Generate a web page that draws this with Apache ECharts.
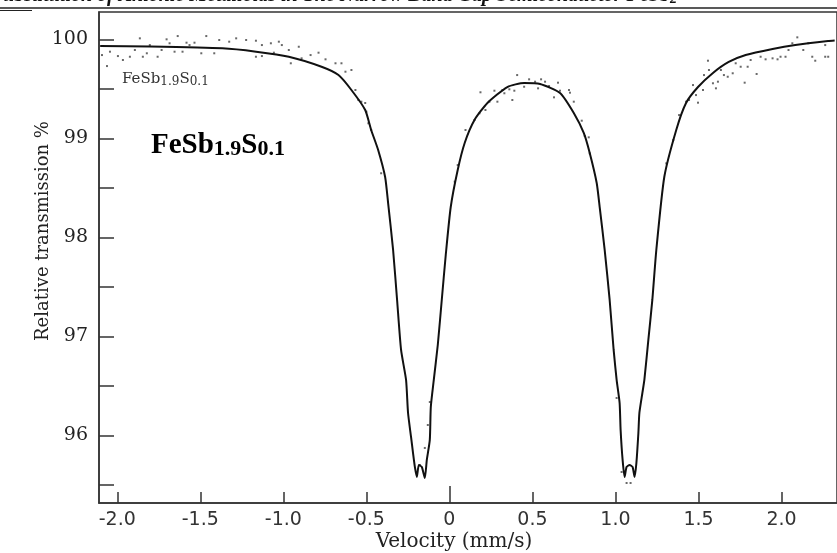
<!DOCTYPE html>
<html>
<head>
<meta charset="utf-8">
<script src="https://cdn.jsdelivr.net/npm/echarts@6/dist/echarts.min.js"></script>
<style>
  html, body { margin: 0; padding: 0; background: #fff; }
  #chart { width: 837px; height: 553px; }
</style>
</head>
<body>
<div id="chart"></div>
<script>
// fitted curve (velocity mm/s, relative transmission %)
var fitVel = [-2.103,-1.804,-1.367,-1.164,-0.967,-0.770,-0.668,-0.590,-0.507,-0.471,-0.429,-0.387,-0.369,-0.339,-0.315,-0.291,-0.261,-0.249,-0.231,-0.219,-0.207,-0.196,-0.184,-0.166,-0.148,-0.136,-0.118,-0.112,-0.094,-0.070,-0.046,-0.022,0.008,0.050,0.092,0.151,0.229,0.349,0.450,0.546,0.666,0.749,0.809,0.845,0.887,0.905,0.935,0.965,0.989,1.007,1.025,1.031,1.043,1.055,1.067,1.085,1.103,1.115,1.126,1.138,1.144,1.162,1.174,1.198,1.222,1.246,1.294,1.366,1.425,1.497,1.587,1.682,1.784,1.946,2.083,2.280,2.320];
var fitTrans = [99.934,99.929,99.911,99.877,99.826,99.725,99.641,99.490,99.288,99.086,98.884,98.611,98.348,97.874,97.369,96.864,96.561,96.227,95.985,95.823,95.672,95.581,95.702,95.682,95.571,95.753,95.955,96.288,96.561,96.914,97.369,97.823,98.308,98.682,98.955,99.187,99.359,99.520,99.561,99.551,99.460,99.258,99.056,98.854,98.551,98.308,97.874,97.369,96.864,96.561,96.328,96.056,95.753,95.581,95.682,95.702,95.682,95.581,95.722,96.025,96.227,96.429,96.561,96.965,97.369,97.874,98.611,99.086,99.359,99.520,99.662,99.773,99.843,99.904,99.944,99.985,99.990];

// measured points
var dataVel = [-2.092,-2.062,-2.044,-1.996,-1.966,-1.924,-1.894,-1.864,-1.846,-1.822,-1.804,-1.757,-1.733,-1.703,-1.685,-1.655,-1.636,-1.607,-1.583,-1.565,-1.535,-1.494,-1.464,-1.416,-1.386,-1.326,-1.284,-1.224,-1.165,-1.165,-1.129,-1.129,-1.075,-1.057,-1.027,-1.009,-0.967,-0.955,-0.907,-0.890,-0.836,-0.788,-0.746,-0.686,-0.650,-0.626,-0.590,-0.566,-0.548,-0.530,-0.507,-0.500,-0.488,-0.471,-0.411,
  -0.178,-0.148,-0.130,-0.118,
  0.032,0.050,0.097,0.151,0.181,0.217,0.187,0.241,0.271,0.289,0.319,0.331,0.361,0.391,0.379,0.408,0.450,0.480,0.516,0.534,0.552,0.576,0.600,0.630,0.654,0.666,0.720,0.726,0.749,0.797,0.815,0.839,0.845,
  1.007,1.037,1.067,1.091,
  1.306,1.348,1.383,1.425,1.443,1.467,1.485,1.497,1.527,1.533,1.557,1.563,1.587,1.605,1.617,1.635,1.653,1.676,1.706,1.724,1.754,1.778,1.796,1.814,1.850,1.874,1.904,1.946,1.976,1.994,2.024,2.042,2.065,2.095,2.131,2.161,2.185,2.203,2.263,2.263,2.281];
var dataTrans = [99.843,99.732,99.877,99.833,99.793,99.826,99.894,100.012,99.826,99.861,99.944,99.826,99.894,100.002,99.962,99.877,100.035,99.877,99.968,99.944,99.968,99.861,100.035,99.861,99.995,99.978,100.012,99.995,99.988,99.826,99.944,99.833,99.962,99.867,99.978,99.944,99.894,99.760,99.927,99.810,99.843,99.867,99.800,99.760,99.760,99.675,99.692,99.490,99.389,99.372,99.359,99.271,99.154,99.086,98.649,
  95.702,95.874,96.106,96.338,
  98.564,98.732,99.086,99.187,99.255,99.288,99.467,99.372,99.483,99.372,99.490,99.457,99.497,99.483,99.389,99.641,99.523,99.598,99.574,99.507,99.598,99.574,99.530,99.416,99.564,99.483,99.490,99.463,99.372,99.180,99.025,99.012,98.850,
  96.379,95.631,95.520,95.520,
  98.749,98.985,99.237,99.372,99.389,99.540,99.439,99.362,99.490,99.641,99.786,99.692,99.558,99.507,99.574,99.692,99.641,99.624,99.659,99.760,99.725,99.564,99.725,99.793,99.652,99.826,99.800,99.810,99.800,99.826,99.826,99.894,99.962,100.022,99.894,99.962,99.826,99.786,99.944,99.826,99.826];

var velTicks = [-2.0, -1.5, -1.0, -0.5, 0, 0.5, 1.0, 1.5, 2.0];
var transTicks = [95.5, 96, 96.5, 97, 97.5, 98, 98.5, 99, 99.5, 100];
var transLabels = [96, 97, 98, 99, 100];

var fitData = fitVel.map(function (v, i) { return [v, fitTrans[i]]; });
var pointData = dataVel.map(function (v, i) { return [v, dataTrans[i]]; });

var chart = echarts.init(document.getElementById('chart'), null, { renderer: 'canvas' });

var axisCol = '#333';

chart.setOption({
    animation: false,
    backgroundColor: '#fff',
    grid: {
        left: 99, right: -5, top: 12, bottom: 50,
        show: true, borderColor: axisCol, borderWidth: 1.5, backgroundColor: 'transparent'
    },
    xAxis: [{
        type: 'value',
        min: -2.11, max: 2.334,
        axisLine: { show: true, onZero: false, lineStyle: { color: axisCol, width: 1.5 } },
        axisTick: { show: true, inside: true, length: 11, customValues: velTicks, lineStyle: { color: axisCol, width: 1.5 } },
        axisLabel: {
            customValues: velTicks,
            margin: 8,
            fontFamily: 'DejaVu Sans', fontSize: 19, color: '#333',
            formatter: function (v) { return v === 0 ? '0' : v.toFixed(1); }
        },
        splitLine: { show: false }
    }, {
        // taller tick at zero
        type: 'value',
        position: 'bottom',
        min: -2.11, max: 2.334,
        axisLine: { show: false, onZero: false },
        axisTick: { show: true, inside: true, length: 17, customValues: [0], lineStyle: { color: axisCol, width: 1.5 } },
        axisLabel: { show: false },
        splitLine: { show: false }
    }],
    yAxis: {
        type: 'value',
        min: 95.318, max: 100.278,
        axisLine: { show: true, onZero: false, lineStyle: { color: axisCol, width: 1.5 } },
        axisTick: { show: true, inside: true, length: 15, customValues: transTicks, lineStyle: { color: axisCol, width: 1.5 } },
        axisLabel: {
            customValues: transLabels,
            margin: 11,
            fontFamily: 'DejaVu Serif', fontSize: 19, color: '#222'
        },
        splitLine: { show: false }
    },
    graphic: [
        {
            type: 'text', left: -8, top: -14,
            style: {
                text: '{a|Substitution of Anionic Metalloids in The Narrow Band Gap Semiconductor FeSb}{s|2}',
                rich: {
                    a: { font: 'italic bold 20px "Liberation Serif"', fill: '#111' },
                    s: { font: 'italic bold 14px "Liberation Serif"', fill: '#111', padding: [7, 0, 0, 0] }
                }
            }
        },
        { type: 'line', shape: { x1: 0, y1: 8, x2: 837, y2: 8 }, style: { stroke: '#222', lineWidth: 1.5 } },
        { type: 'line', shape: { x1: 0, y1: 10.5, x2: 32, y2: 10.5 }, style: { stroke: '#222', lineWidth: 1 } },
        {
            type: 'text', x: 43, y: 231, rotation: Math.PI / 2,
            style: {
                text: 'Relative transmission %',
                font: '18px "DejaVu Serif"', fill: '#222',
                align: 'center', verticalAlign: 'middle'
            }
        },
        {
            type: 'text', x: 454, y: 542,
            style: {
                text: 'Velocity (mm/s)',
                font: '20px "DejaVu Serif"', fill: '#222',
                align: 'center', verticalAlign: 'middle'
            }
        },
        {
            type: 'text', left: 122, top: 72,
            style: {
                text: '{a|FeSb}{s|1.9}{a|S}{s|0.1}',
                rich: {
                    a: { fontFamily: 'DejaVu Serif', fontSize: 15, fill: '#333' },
                    s: { fontFamily: 'DejaVu Serif', fontSize: 12, fill: '#333', padding: [5, 0, 0, 0] }
                }
            }
        },
        {
            type: 'text', left: 151, top: 131,
            style: {
                text: '{a|FeSb}{s|1.9}{a|S}{s|0.1}',
                rich: {
                    a: { fontFamily: 'Liberation Serif', fontWeight: 'bold', fontSize: 29, fill: '#000' },
                    s: { fontFamily: 'Liberation Serif', fontWeight: 'bold', fontSize: 22, fill: '#000', padding: [8, 0, 0, 0] }
                }
            }
        }
    ],
    series: [{
        type: 'scatter',
        data: pointData,
        symbol: 'rect',
        symbolSize: 2,
        itemStyle: { color: '#444' },
        silent: true
    }, {
        type: 'line',
        data: fitData,
        showSymbol: false,
        symbol: 'none',
        smooth: 0.2,
        lineStyle: { color: '#111', width: 2 },
        silent: true
    }]
});
</script>
</body>
</html>
